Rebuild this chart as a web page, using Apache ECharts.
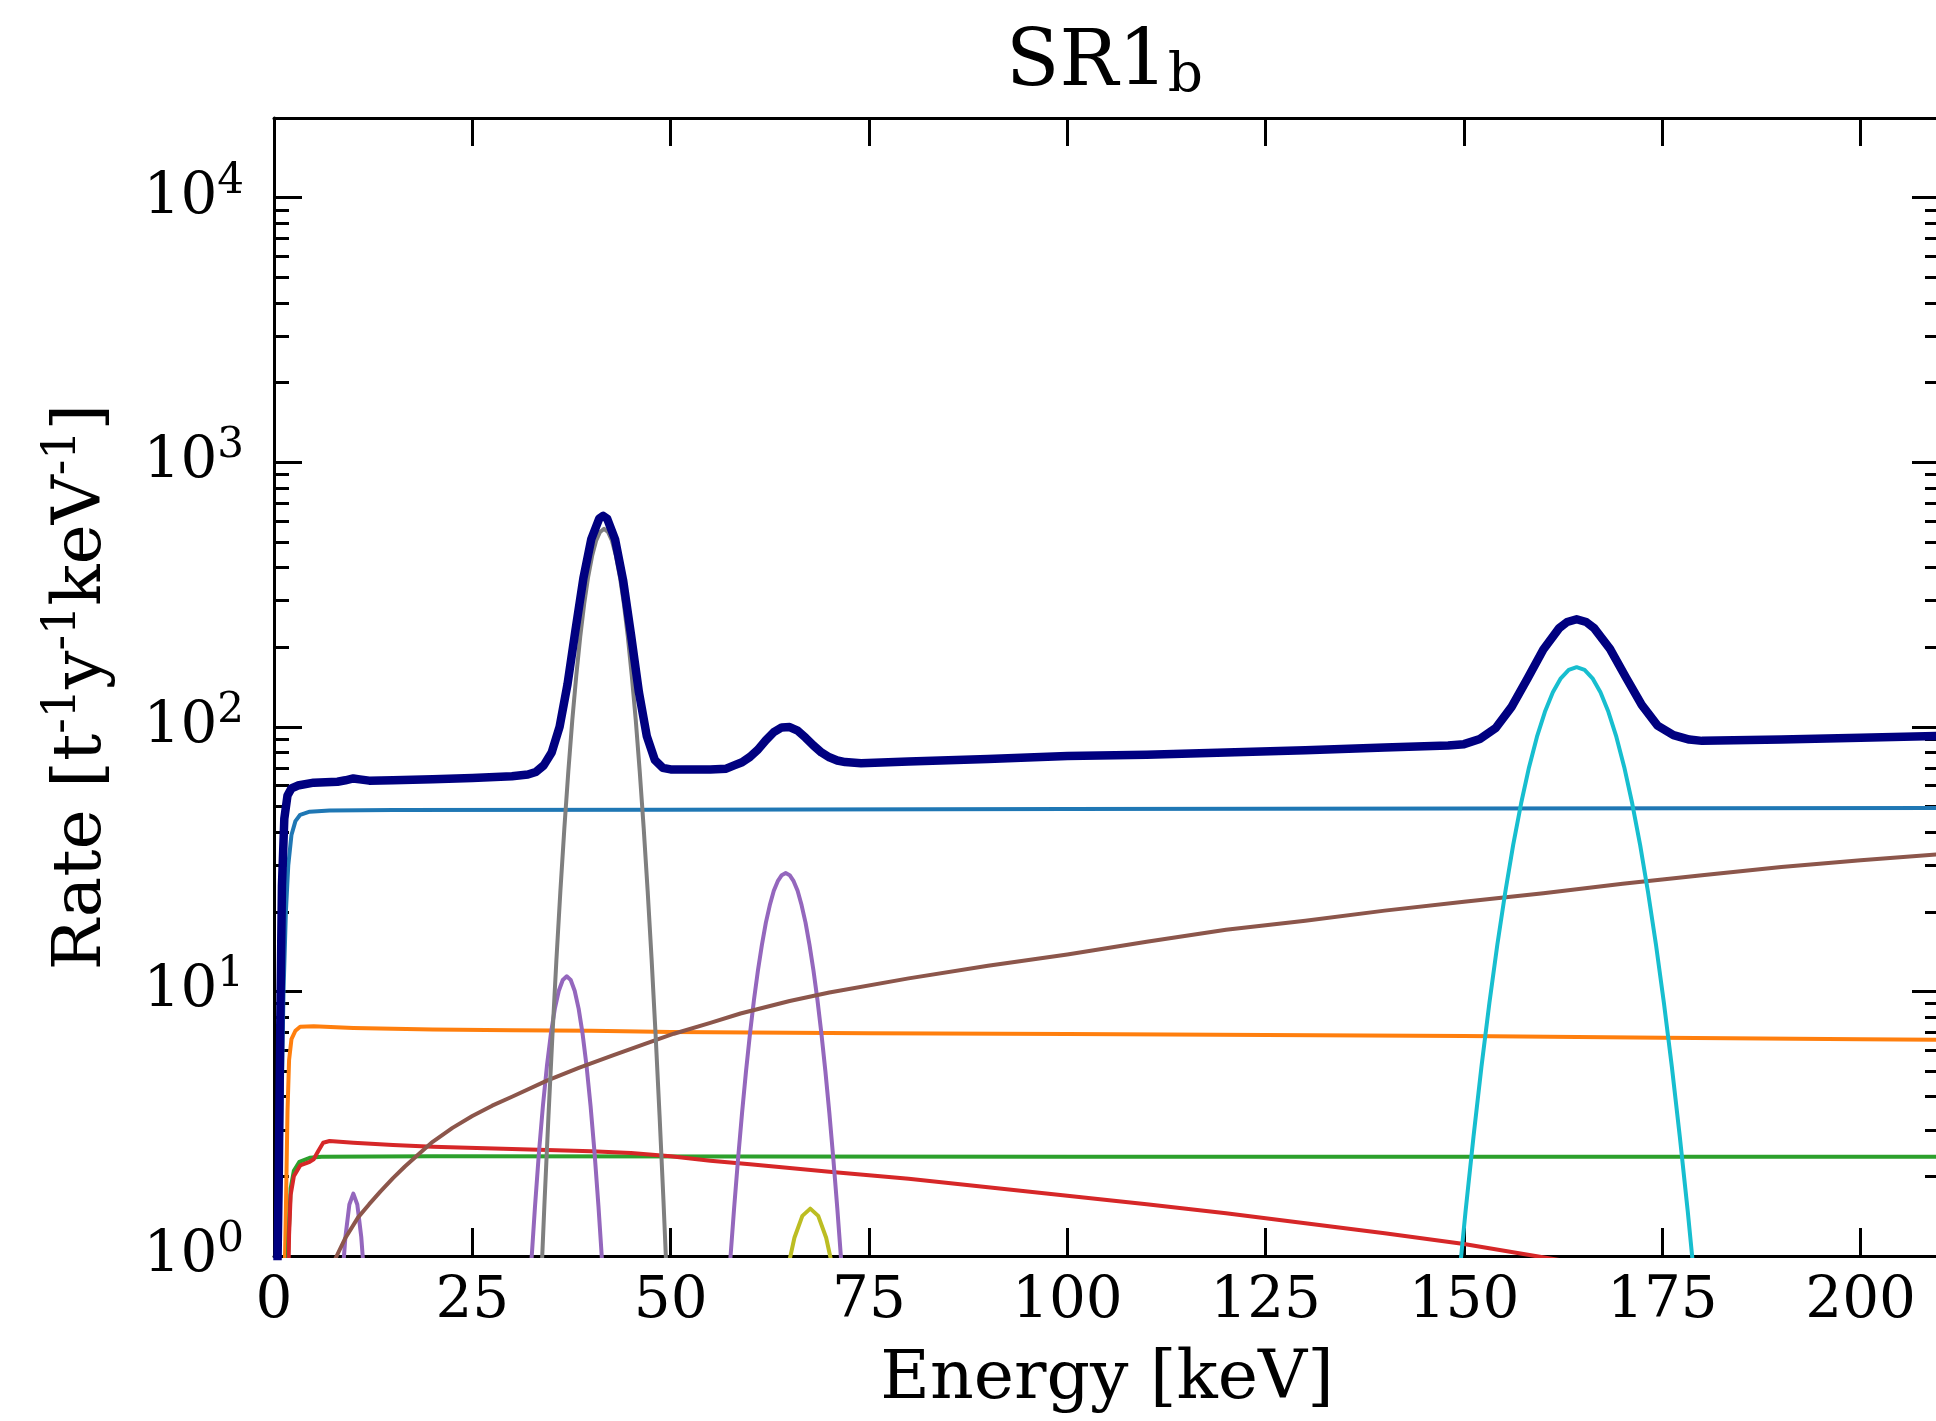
<!DOCTYPE html>
<html><head><meta charset="utf-8">
<script src="https://cdn.jsdelivr.net/npm/echarts@6/dist/echarts.min.js"></script>
<style>html,body{margin:0;padding:0;background:#fff}#c{width:1936px;height:1421px}</style>
</head><body><div id="c"></div>
<script>
// ---------- data ----------
const titleMain = 'SR1';
const titleSub = 'b';
const xName = 'Energy [keV]';
const xTickStep = 25;
const yMinorTicks = [2,3,4,5,6,7,8,9,20,30,40,50,60,70,80,90,200,300,400,500,600,700,800,900,2000,3000,4000,5000,6000,7000,8000,9000];

const totalRate = [[0.3,0.5],[0.6,2],[0.8,8],[1.0,25],[1.3,45],[1.7,55],[2.2,58.5],[3,60],[5,61.5],[8,62],[9,62.8],[10,63.8],[10.8,63.3],[12,62.6],[15,62.8],[20,63.3],[25,64],[30,65],[32,66],[33,67.5],[34,71.5],[35,80],[36,100],[37,145],[38,232],[39,365],[40,513],[41,613],[41.5,627],[42,612],[43,510],[44,359],[45,223],[46,135],[47,92],[48,75],[49,70],[50,69],[55,69],[57,69.5],[58,71.5],[59,73.5],[60,77],[61,82],[62,89],[63,95.5],[64,99.5],[65,99.8],[66,96.8],[67,91],[68,85],[69,80],[70,76.7],[71,74.6],[72,73.6],[74,72.8],[80,74],[90,75.5],[100,77.5],[110,78.5],[120,80],[130,81.5],[140,83.5],[148,85],[150,86],[152,90],[154,99],[156,119],[158,152],[160,196],[162,236],[163,249],[164.2,255],[165.4,249],[166.4,236],[168.4,197],[170.4,154],[172.4,121],[174.4,101],[176.4,93],[178.4,89.5],[180,88.5],[190,89.5],[200,91],[210,92.5]];

const blueRate = [[0.5,0.5],[0.9,3],[1.2,10],[1.5,20],[1.8,30],[2.2,39],[2.7,44],[3.3,46.5],[4.5,47.8],[7,48.3],[15,48.5],[50,48.6],[100,48.9],[150,49.1],[210,49.3]];

const orangeRate = [[1.2,0.5],[1.5,1.5],[1.7,3.5],[1.9,5.5],[2.2,6.6],[2.7,7.1],[3.3,7.35],[5,7.38],[10,7.28],[20,7.18],[30,7.13],[40,7.1],[50,7.02],[75,6.95],[100,6.9],[125,6.85],[150,6.78],[175,6.68],[200,6.6],[210,6.56]];

const greenRate = [[1.5,0.5],[1.8,1.1],[2.1,1.8],[2.5,2.1],[3.2,2.27],[4.5,2.35],[6,2.37],[20,2.38],[100,2.37],[210,2.37]];

const redRate = [[1.7,0.5],[1.9,1.2],[2.1,1.7],[2.5,2.0],[3.3,2.2],[4.5,2.27],[5.0,2.32],[5.6,2.5],[6.2,2.68],[7,2.72],[10,2.68],[15,2.63],[20,2.59],[30,2.54],[40,2.49],[45,2.45],[50,2.38],[55,2.29],[60,2.22],[70,2.08],[80,1.96],[90,1.82],[100,1.69],[110,1.57],[120,1.45],[130,1.33],[140,1.22],[150,1.11],[159,1.0],[170,0.88],[190,0.7],[210,0.55]];

const purpleRate = [[8.0,0.38],[8.5,0.74],[9.0,1.18],[9.5,1.565],[10.0,1.72],[10.5,1.565],[11.0,1.18],[11.5,0.74],[12.0,0.38],[12.5,null],
[31.9,0.50],[32.4,0.91],[32.9,1.54],[33.4,2.47],[33.9,3.70],[34.4,5.22],[34.9,6.91],[35.4,8.61],[35.9,10.06],[36.4,11.05],[36.9,11.4],[37.4,11.05],[37.9,10.06],[38.4,8.61],[38.9,6.91],[39.4,5.22],[39.9,3.70],[40.4,2.47],[40.9,1.54],[41.4,0.91],[41.9,0.50],[45,null],
[56.5,0.34],[57,0.58],[57.5,0.955],[58,1.52],[58.5,2.34],[59,3.48],[59.5,5.0],[60,6.93],[60.5,9.29],[61,12.0],[61.5,15.0],[62,18.2],[62.5,21.2],[63,24.0],[63.5,26.1],[64,27.5],[64.5,28],[65,27.5],[65.5,26.1],[66,24.0],[66.5,21.2],[67,18.2],[67.5,15.0],[68,12.0],[68.5,9.29],[69,6.93],[69.5,5.0],[70,3.48],[70.5,2.34],[71,1.52],[71.5,0.955],[72,0.58],[72.5,0.34]];

const brownRate = [[7.2,0.9],[7.9,1.0],[9,1.17],[10.6,1.40],[12,1.57],[13.4,1.75],[15,1.97],[16.5,2.18],[18.4,2.45],[20,2.70],[22.5,3.05],[25,3.38],[27.5,3.70],[30,4.0],[34.4,4.6],[38.5,5.15],[42.8,5.74],[46.5,6.3],[50.4,6.92],[55,7.6],[58.8,8.25],[65,9.2],[70,9.9],[80,11.2],[90,12.5],[100,13.8],[110,15.4],[120,17.1],[130,18.5],[140,20.2],[150,21.8],[160,23.5],[170,25.5],[180,27.5],[190,29.5],[200,31.3],[210,33]];

const grayRate = [[33.1,0.30],[33.6,0.71],[34.1,1.60],[34.6,3.40],[35.1,6.87],[35.6,13.2],[36.1,24.0],[36.6,41.4],[37.1,67.9],[37.6,106],[38.1,156],[38.6,219],[39.1,292],[39.6,369],[40.1,443],[40.6,505],[41.1,545],[41.6,560],[42.1,545],[42.6,505],[43.1,443],[43.6,369],[44.1,292],[44.6,219],[45.1,156],[45.6,106],[46.1,67.9],[46.6,41.4],[47.1,24.0],[47.6,13.2],[48.1,6.87],[48.6,3.40],[49.1,1.60],[49.6,0.71],[50.1,0.30]];

const oliveRate = [[63.6,0.55],[64.6,0.854],[65.6,1.172],[66.6,1.418],[67.6,1.51],[68.6,1.418],[69.6,1.172],[70.6,0.854],[71.6,0.55]];

const cyanRate = [[148.2,0.35],[149.2,0.73],[150.2,1.48],[151.2,2.83],[152.2,5.19],[153.2,9.04],[154.2,15.0],[155.2,23.7],[156.2,35.8],[157.2,51.4],[158.2,70.4],[159.2,91.8],[160.2,114],[161.2,135],[162.2,152.5],[163.2,164],[164.2,168],[165.2,164],[166.2,152.5],[167.2,135],[168.2,114],[169.2,91.8],[170.2,70.4],[171.2,51.4],[172.2,35.8],[173.2,23.7],[174.2,15.0],[175.2,9.04],[176.2,5.19],[177.2,2.83],[178.2,1.48],[179.2,0.73],[180.2,0.35]];

// ---------- chart ----------
const FONT = 'DejaVu Serif';
const BLACK = '#000';
const chart = echarts.init(document.getElementById('c'), null, {renderer: 'canvas'});

const spine = {show: true, lineStyle: {color: BLACK, width: 3}};
const majorTick = {show: true, inside: true, length: 28, lineStyle: {color: BLACK, width: 3}};
const minorTickStyle = {show: true, inside: true, length: 15, customValues: yMinorTicks, lineStyle: {color: BLACK, width: 3}};

function yLabel(v) {
  const e = Math.round(Math.log10(v));
  if (Math.abs(Math.pow(10, e) - v) > 1e-6 * v) return '';
  return '{b|10}{s|' + e + '}';
}
function xLabel(v) {
  return (v % xTickStep === 0) ? String(v) : '';
}

function lineSeries(name, data, color, width, z) {
  return {
    name, type: 'line', data, xAxisIndex: 0, yAxisIndex: 0,
    showSymbol: false, symbol: 'none', connectNulls: false, clip: true,
    smooth: false,
    lineStyle: {color, width, cap: 'round', join: 'round'}, itemStyle: {color}, z: z || 2,
    emphasis: {disabled: true}, animation: false
  };
}

const option = {
  animation: false,
  backgroundColor: '#fff',
  title: [{
    text: '{a|' + titleMain + '}{b|' + titleSub + '}',
    left: 1006, top: 26, padding: 0,
    textStyle: {
      fontWeight: 'normal',
      rich: {
        a: {fontFamily: FONT, fontSize: 78, fontWeight: 'normal', lineHeight: 78, color: BLACK},
        b: {fontFamily: FONT, fontSize: 55, fontWeight: 'normal', lineHeight: 36, verticalAlign: 'bottom', color: BLACK}
      }
    }
  }],
  grid: {left: 274, top: 118, right: -4, bottom: 165, containLabel: false, outerBoundsMode: 'none'},
  xAxis: [{
    type: 'value', min: 0, max: 210, interval: xTickStep, position: 'bottom',
    axisLine: spine, axisTick: majorTick, splitLine: {show: false},
    axisLabel: {show: true, margin: 17, formatter: xLabel, fontFamily: FONT, fontSize: 58, color: BLACK, showMaxLabel: false},
    name: xName, nameLocation: 'middle', nameGap: 90,
    nameTextStyle: {fontFamily: FONT, fontSize: 68, color: BLACK}
  }, {
    type: 'value', min: 0, max: 210, interval: xTickStep, position: 'top',
    axisLine: spine, axisTick: majorTick, splitLine: {show: false},
    axisLabel: {show: false}
  }],
  yAxis: [{
    type: 'log', logBase: 10, min: 1, max: 20000, position: 'left',
    axisLine: spine, axisTick: majorTick, splitLine: {show: false},
    minorTick: {show: false},
    axisLabel: {
      show: true, margin: 30, formatter: yLabel,
      rich: {
        b: {fontFamily: FONT, fontSize: 58, lineHeight: 74, color: BLACK},
        s: {fontFamily: FONT, fontSize: 42, lineHeight: 42, verticalAlign: 'top', color: BLACK}
      }
    },
    name: '{n|Rate [t}{s|-1}{n|y}{s|-1}{n|keV}{s|-1}{n|]}',
    nameLocation: 'middle', nameRotate: 90, nameGap: 150,
    nameTextStyle: {
      rich: {
        n: {fontFamily: FONT, fontSize: 68, lineHeight: 84, color: BLACK},
        s: {fontFamily: FONT, fontSize: 46, lineHeight: 46, verticalAlign: 'top', color: BLACK}
      }
    }
  }, {
    type: 'log', logBase: 10, min: 1, max: 20000, position: 'left',
    axisLine: {show: false}, axisTick: minorTickStyle, axisLabel: {show: false}, splitLine: {show: false}
  }, {
    type: 'log', logBase: 10, min: 1, max: 20000, position: 'right',
    axisLine: spine, axisTick: majorTick, axisLabel: {show: false}, splitLine: {show: false}
  }, {
    type: 'log', logBase: 10, min: 1, max: 20000, position: 'right',
    axisLine: {show: false}, axisTick: minorTickStyle, axisLabel: {show: false}, splitLine: {show: false}
  }],
  series: [
    lineSeries('blue', blueRate, '#1f77b4', 4),
    lineSeries('orange', orangeRate, '#ff7f0e', 4),
    lineSeries('green', greenRate, '#2ca02c', 4),
    lineSeries('red', redRate, '#d62728', 4),
    lineSeries('purple', purpleRate, '#9467bd', 4),
    lineSeries('brown', brownRate, '#8c564b', 4),
    lineSeries('gray', grayRate, '#7f7f7f', 4),
    lineSeries('olive', oliveRate, '#bcbd22', 4),
    lineSeries('cyan', cyanRate, '#17becf', 4),
    lineSeries('total', totalRate, '#000080', 8.5, 5)
  ]
};
chart.setOption(option);
</script>
</body></html>
